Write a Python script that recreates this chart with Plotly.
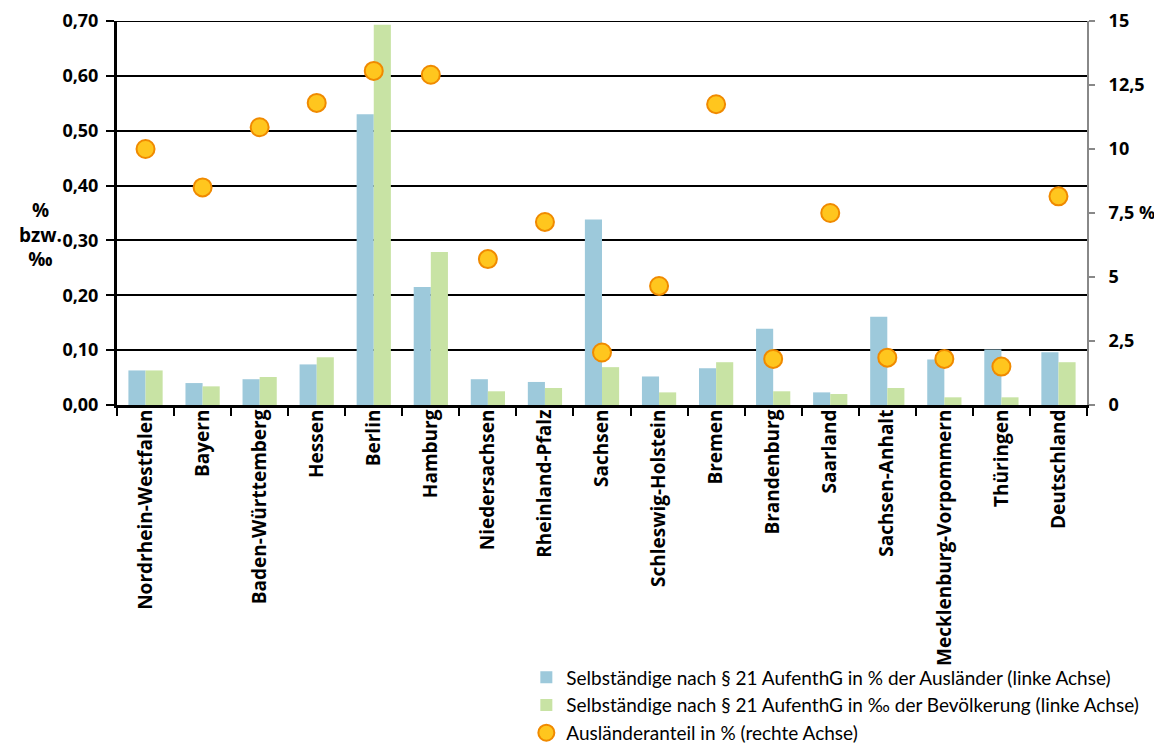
import plotly.graph_objects as go

categories = ["Nordrhein-Westfalen", "Bayern", "Baden-Württemberg", "Hessen", "Berlin",
              "Hamburg", "Niedersachsen", "Rheinland-Pfalz", "Sachsen", "Schleswig-Holstein",
              "Bremen", "Brandenburg", "Saarland", "Sachsen-Anhalt",
              "Mecklenburg-Vorpommern", "Thüringen", "Deutschland"]
selb_pct_auslaender = [0.063, 0.040, 0.047, 0.074, 0.530, 0.215, 0.047, 0.042, 0.338,
                       0.052, 0.067, 0.139, 0.023, 0.161, 0.083, 0.101, 0.096]
selb_promille_bev = [0.063, 0.034, 0.051, 0.087, 0.693, 0.279, 0.025, 0.031, 0.069,
                     0.023, 0.078, 0.025, 0.020, 0.031, 0.014, 0.014, 0.078]
auslaenderanteil = [10.0, 8.5, 10.85, 11.8, 13.05, 12.9, 5.7, 7.15, 2.05, 4.65,
                    11.75, 1.8, 7.5, 1.85, 1.8, 1.5, 8.15]
left_ticks = [0, 0.1, 0.2, 0.3, 0.4, 0.5, 0.6, 0.7]
right_ticks = [0, 2.5, 5, 7.5, 10, 12.5, 15]
right_ticktext = ["0", "2,5", "5", "7,5 %", "10", "12,5", "15"]

BOLD = "Open Sans"
LEG = "Lato"

fig = go.Figure()
fig.add_trace(go.Bar(x=categories, y=selb_pct_auslaender,
                     name="Selbständige nach § 21 AufenthG in % der Ausländer (linke Achse)",
                     marker=dict(color="#9DC9DB", line=dict(width=0))))
fig.add_trace(go.Bar(x=categories, y=selb_promille_bev,
                     name="Selbständige nach § 21 AufenthG in ‰ der Bevölkerung (linke Achse)",
                     marker=dict(color="#C8E3A4", line=dict(width=0))))
fig.add_trace(go.Scatter(x=categories, y=auslaenderanteil, yaxis="y2", mode="markers",
                         name="Ausländeranteil in % (rechte Achse)",
                         marker=dict(size=18, color="#FFC61E",
                                     line=dict(color="#F08A00", width=2))))

tickfont = dict(family=BOLD, size=18, color="black", weight="bold")

fig.update_layout(
    width=1162, height=744,
    margin=dict(l=109, r=83, t=13, b=347, autoexpand=False),
    plot_bgcolor="white", paper_bgcolor="white",
    separators=",.",
    barmode="group", bargap=0.4, bargroupgap=0,
    font=dict(family=BOLD, color="black", size=16),
    xaxis=dict(type="category", tickangle=-90, tickson="boundaries",
               ticks="outside", ticklen=8, tickwidth=2, tickcolor="black",
               showline=True, linecolor="black", linewidth=3,
               tickfont=dict(family=BOLD, size=19, color="black", weight="bold"),
               automargin=False, ticklabelstandoff=-6, ticklabeloverflow="allow",
               showgrid=False, range=[-0.5, 16.5]),
    yaxis=dict(range=[0, 0.7], tickvals=left_ticks, tickformat=".2f",
               showgrid=True, gridcolor="black", gridwidth=2,
               showline=True, linecolor="black", linewidth=3,
               ticks="outside", ticklen=8, tickwidth=2, tickcolor="black",
               tickfont=tickfont, automargin=False, ticklabelstandoff=4,
               ticklabeloverflow="allow", zeroline=False),
    yaxis2=dict(range=[0, 15], overlaying="y", side="right",
                tickvals=right_ticks, ticktext=right_ticktext,
                showgrid=False, showline=True, linecolor="#888888", linewidth=2,
                ticks="outside", ticklen=6, tickwidth=2, tickcolor="#888888",
                tickfont=tickfont, automargin=False, ticklabelstandoff=10,
                ticklabeloverflow="allow", zeroline=False),
    legend=dict(x=0.422, y=-0.660, xanchor="left", yanchor="top",
                font=dict(family=LEG, size=19, color="black"),
                bgcolor="rgba(0,0,0,0)", tracegroupgap=0, itemwidth=30),
    showlegend=True,
)
# top gridline at the upper range edge
fig.add_shape(type="line", xref="paper", yref="y", x0=0, x1=1,
              y0=left_ticks[-1], y1=left_ticks[-1],
              line=dict(color="black", width=2), layer="below")
fig.add_annotation(text="%<br>bzw.<br>‰", xref="paper", yref="paper",
                   x=-0.055, y=0.4435, xanchor="right", yanchor="middle", showarrow=False,
                   font=dict(family=BOLD, size=19, color="black", weight="bold"),
                   align="center")

fig.write_html("out.html")
